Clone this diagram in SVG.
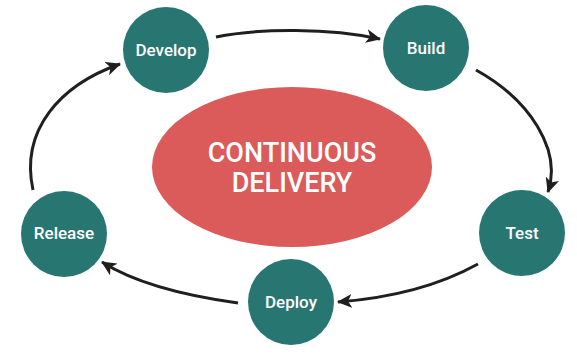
<svg xmlns="http://www.w3.org/2000/svg" width="577" height="354" viewBox="0 0 577 354">
<style>
.node{fill:#277672}
.lbl{font-family:Roboto,"Liberation Sans",sans-serif;font-weight:500;font-size:17px;fill:#fff;text-anchor:middle}
.title{font-family:Roboto,"Liberation Sans",sans-serif;font-weight:500;font-size:27px;fill:#fff;text-anchor:middle}
.conn{fill:none;stroke:#1f1f1f;stroke-width:3;marker-end:url(#ah)}
</style>
<defs>
<marker id="ah" markerUnits="userSpaceOnUse" markerWidth="16" markerHeight="14" refX="14" refY="7" orient="auto">
<path d="M0,0 L15,7 L0,14 L4,7 z" fill="#1f1f1f"/>
</marker>
</defs>
<rect width="577" height="354" fill="#fff"/>
<g id="center">
<ellipse cx="292" cy="167" rx="140" ry="80" fill="#DB5A5A"/>
<text class="title" x="292" y="162">CONTINUOUS</text>
<text class="title" x="292" y="192">DELIVERY</text>
</g>
<g id="connectors">
<path class="conn" d="M216,37 C260,28 330,28 380,39"/>
<path class="conn" d="M476,70 C530,100 562,150 548,192"/>
<path class="conn" d="M478,264 C440,285 390,298 338,302"/>
<path class="conn" d="M238,303 C180,295 135,283 102,262"/>
<path class="conn" d="M33,190 C20,130 60,85 120,64"/>
</g>
<g id="develop"><circle class="node" cx="166" cy="50" r="43"/><text class="lbl" x="166" y="56">Develop</text></g>
<g id="build"><circle class="node" cx="426" cy="48" r="43"/><text class="lbl" x="426" y="54">Build</text></g>
<g id="test"><circle class="node" cx="522" cy="233" r="43"/><text class="lbl" x="522" y="239">Test</text></g>
<g id="deploy"><circle class="node" cx="291" cy="302" r="43"/><text class="lbl" x="291" y="308">Deploy</text></g>
<g id="release"><circle class="node" cx="64" cy="234" r="43"/><text class="lbl" x="64" y="239">Release</text></g>
</svg>
